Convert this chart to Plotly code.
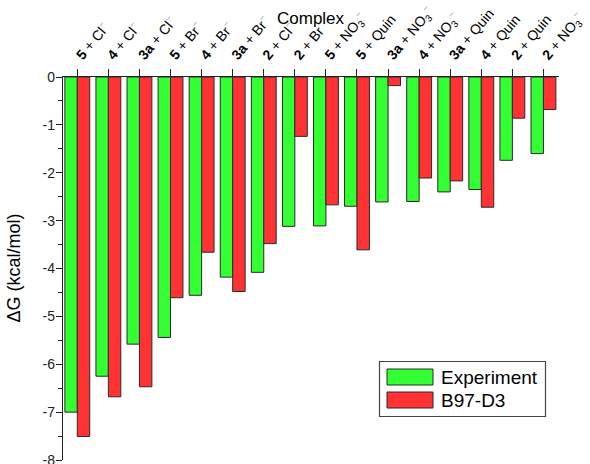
import plotly.graph_objects as go

# Complexes: receptor number (bold) + anion
receptors = ["5", "4", "3a", "5", "4", "3a", "2", "2",
             "5", "5", "3a", "4", "3a", "4", "2", "2"]
anions = ["Cl", "Cl", "Cl", "Br", "Br", "Br", "Cl", "Br",
          "NO3", "Quin", "NO3", "NO3", "Quin", "Quin", "Quin", "NO3"]

# Binding free energies, kcal/mol
experiment = [-7.00, -6.25, -5.58, -5.44, -4.56, -4.18, -4.08, -3.12,
              -3.11, -2.70, -2.61, -2.60, -2.40, -2.35, -1.74, -1.60]
b97_d3 = [-7.51, -6.68, -6.47, -4.61, -3.66, -4.48, -3.48, -1.24,
          -2.67, -3.61, -0.18, -2.11, -2.17, -2.72, -0.86, -0.68]

y_ticks = [0, -1, -2, -3, -4, -5, -6, -7, -8]

MINUS = "<sup><span style='color:#9a9a9a'>−</span></sup>"
ANION_HTML = {
    "Cl": "Cl" + MINUS,
    "Br": "Br" + MINUS,
    "NO3": "NO<sub>3</sub>" + MINUS,
    "Quin": "Quin",
}
labels = [f"<b>{r}</b> + {ANION_HTML[a]}" for r, a in zip(receptors, anions)]
xpos = list(range(len(labels)))

GREEN = "#33ff33"
RED = "#ff3333"
EDGE = "#2a2a2a"
FONT = "Liberation Sans, Arial, sans-serif"

fig = go.Figure()
fig.add_trace(go.Bar(x=xpos, y=experiment, name="Experiment",
                     marker=dict(color=GREEN, line=dict(color=EDGE, width=1))))
fig.add_trace(go.Bar(x=xpos, y=b97_d3, name="B97-D3",
                     marker=dict(color=RED, line=dict(color=EDGE, width=1))))

fig.update_layout(
    width=590, height=464,
    margin=dict(l=63, r=31, t=77, b=4),
    paper_bgcolor="white", plot_bgcolor="white",
    font=dict(family=FONT, color="black", size=14),
    barmode="group", bargap=0.2, bargroupgap=0,
    showlegend=False,
)

fig.update_xaxes(
    side="top", range=[-0.46, 15.5], automargin=False,
    tickmode="array", tickvals=xpos, ticktext=labels,
    tickangle=-50, ticks="outside", ticklen=7, tickwidth=1, tickcolor="#222",
    showline=True, linecolor="#222", linewidth=1.3,
    showgrid=False, zeroline=False,
    tickfont=dict(size=14, family=FONT, color="black"),
    ticklabeloverflow="allow",
)
fig.update_yaxes(
    range=[-8, 0], automargin=False,
    tickmode="array", tickvals=y_ticks, ticktext=[f"{v:g}" for v in y_ticks],
    ticks="outside", ticklen=6, tickwidth=1, tickcolor="#222",
    minor=dict(dtick=0.5, ticks="outside", ticklen=4, tickcolor="#222", tickwidth=1),
    showline=True, linecolor="#222", linewidth=1.3,
    showgrid=False, zeroline=False,
    tickfont=dict(size=14, family=FONT, color="#222"),
    ticklabeloverflow="allow", ticklabelstandoff=-2,
)

# Axis titles
fig.add_annotation(text="Complex", xref="paper", yref="paper",
                   x=0.5, y=1 + (77 - 19) / 383, xanchor="center", yanchor="middle",
                   showarrow=False, font=dict(size=17, family=FONT, color="black"))
fig.add_annotation(text="ΔG (kcal/mol)", xref="paper", yref="paper",
                   x=(13 - 63) / 496, y=0.5, xanchor="center", yanchor="middle",
                   textangle=-90, showarrow=False,
                   font=dict(size=18, family=FONT, color="black"))

# Legend box with wide colour swatches
def px_x(p):
    return (p - 63) / 496

def px_y(p):
    return 1 - (p - 77) / 383

fig.add_shape(type="rect", xref="paper", yref="paper",
              x0=px_x(379.5), x1=px_x(545.5), y0=px_y(416.5), y1=px_y(361.5),
              line=dict(color="#444", width=1.2), fillcolor="white", layer="above")
for (top, bottom), color, name in [((369, 385), GREEN, "Experiment"),
                                   ((392, 408), RED, "B97-D3")]:
    fig.add_shape(type="rect", xref="paper", yref="paper",
                  x0=px_x(387), x1=px_x(433), y0=px_y(bottom), y1=px_y(top),
                  line=dict(color=EDGE, width=1), fillcolor=color, layer="above")
    fig.add_annotation(text=name, xref="paper", yref="paper",
                       x=px_x(439), y=px_y((top + bottom) / 2),
                       xanchor="left", yanchor="middle", showarrow=False,
                       font=dict(size=19, family=FONT, color="black"))

fig.write_html("out.html")
